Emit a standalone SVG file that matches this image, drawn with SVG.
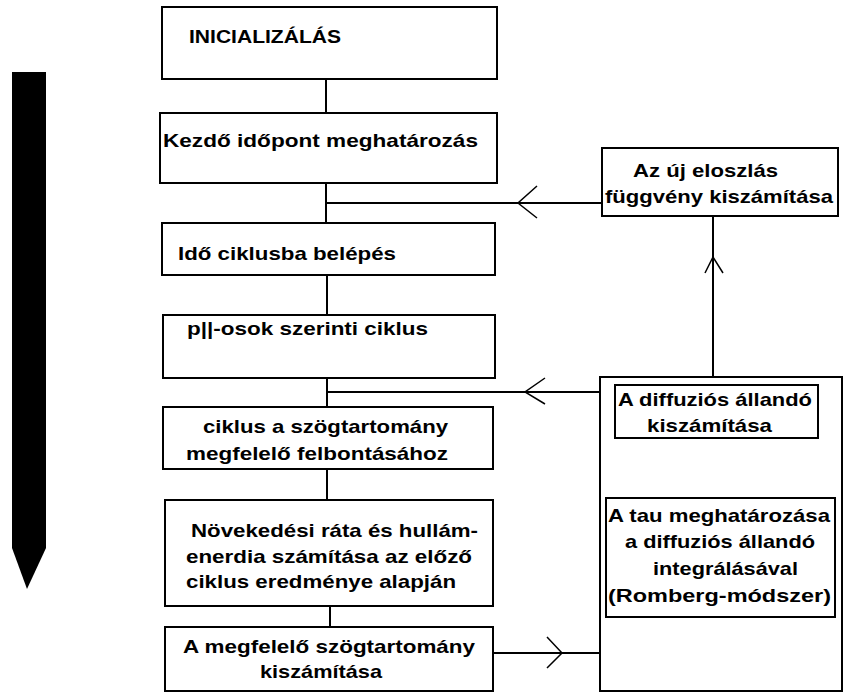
<svg xmlns="http://www.w3.org/2000/svg" width="844" height="693" viewBox="0 0 844 693">
<style>
.box{fill:#fff;stroke:#000;stroke-width:2}
.ln{fill:none;stroke:#000;stroke-width:2}
.ah{fill:none;stroke:#000;stroke-width:1.5}
text{font-family:"Liberation Sans",Arial,sans-serif;font-weight:bold;font-size:19px;fill:#000}
</style>
<rect width="844" height="693" fill="#fff"/>
<g id="time-arrow">
<polygon points="12,72 46,72 46,548 27,589 12,548" fill="#000"/>
</g>
<g id="connectors">
<line class="ln" x1="326" y1="79" x2="326" y2="113"/>
<line class="ln" x1="326" y1="183" x2="326" y2="223"/>
<line class="ln" x1="326" y1="203" x2="602" y2="203"/>
<polyline class="ah" points="537,186 518,203 537,218"/>
<line class="ln" x1="327" y1="275" x2="327" y2="315"/>
<line class="ln" x1="327" y1="378" x2="327" y2="407"/>
<line class="ln" x1="327" y1="392" x2="600" y2="392"/>
<polyline class="ah" points="545,378 525,392 545,404"/>
<line class="ln" x1="327" y1="469" x2="327" y2="500"/>
<line class="ln" x1="330" y1="606" x2="330" y2="627"/>
<line class="ln" x1="493" y1="653" x2="600" y2="653"/>
<polyline class="ah" points="547,637 562,653 547,668"/>
<line class="ln" x1="713" y1="216" x2="713" y2="377"/>
<polyline class="ah" points="705,273 713,257 723,273"/>
</g>
<g id="n-init">
<rect class="box" x="162" y="7" width="335" height="72"/>
<text x="189" y="43" textLength="152" lengthAdjust="spacingAndGlyphs">INICIALIZÁLÁS</text>
</g>
<g id="n-kezdo">
<rect class="box" x="160" y="113" width="337" height="70"/>
<text x="163" y="147" textLength="315" lengthAdjust="spacingAndGlyphs">Kezdő időpont meghatározás</text>
</g>
<g id="n-ido">
<rect class="box" x="162" y="223" width="333" height="52"/>
<text x="178" y="260" textLength="218" lengthAdjust="spacingAndGlyphs">Idő ciklusba belépés</text>
</g>
<g id="n-p">
<rect class="box" x="163" y="315" width="332" height="63"/>
<text x="187" y="335" textLength="241" lengthAdjust="spacingAndGlyphs">p||-osok szerinti ciklus</text>
</g>
<g id="n-szog">
<rect class="box" x="163" y="407" width="330" height="62"/>
<text x="203" y="433" textLength="245" lengthAdjust="spacingAndGlyphs">ciklus a szögtartomány</text>
<text x="186" y="460" textLength="262" lengthAdjust="spacingAndGlyphs">megfelelő felbontásához</text>
</g>
<g id="n-novek">
<rect class="box" x="165" y="500" width="328" height="106"/>
<text x="191" y="537" textLength="287" lengthAdjust="spacingAndGlyphs">Növekedési ráta és hullám-</text>
<text x="186" y="563" textLength="286" lengthAdjust="spacingAndGlyphs">enerdia számítása az előző</text>
<text x="186" y="588" textLength="270" lengthAdjust="spacingAndGlyphs">ciklus eredménye alapján</text>
</g>
<g id="n-megf">
<rect class="box" x="165" y="627" width="328" height="64"/>
<text x="183" y="653" textLength="292" lengthAdjust="spacingAndGlyphs">A megfelelő szögtartomány</text>
<text x="260" y="678" textLength="122" lengthAdjust="spacingAndGlyphs">kiszámítása</text>
</g>
<g id="n-uj">
<rect class="box" x="602" y="148" width="236" height="68"/>
<text x="633" y="177" textLength="145" lengthAdjust="spacingAndGlyphs">Az új eloszlás</text>
<text x="605" y="203" textLength="228" lengthAdjust="spacingAndGlyphs">függvény kiszámítása</text>
</g>
<g id="n-outer">
<rect class="box" x="600" y="377" width="242" height="314"/>
</g>
<g id="n-diff">
<rect class="box" x="615" y="385" width="203" height="53"/>
<text x="618" y="406" textLength="194" lengthAdjust="spacingAndGlyphs">A diffuziós állandó</text>
<text x="647" y="432" textLength="125" lengthAdjust="spacingAndGlyphs">kiszámítása</text>
</g>
<g id="n-tau">
<rect class="box" x="606" y="498" width="229" height="119"/>
<text x="608" y="522" textLength="222" lengthAdjust="spacingAndGlyphs">A tau meghatározása</text>
<text x="625" y="548" textLength="190" lengthAdjust="spacingAndGlyphs">a diffuziós állandó</text>
<text x="653" y="575" textLength="145" lengthAdjust="spacingAndGlyphs">integrálásával</text>
<text x="608" y="602" textLength="223" lengthAdjust="spacingAndGlyphs">(Romberg-módszer)</text>
</g>
</svg>
